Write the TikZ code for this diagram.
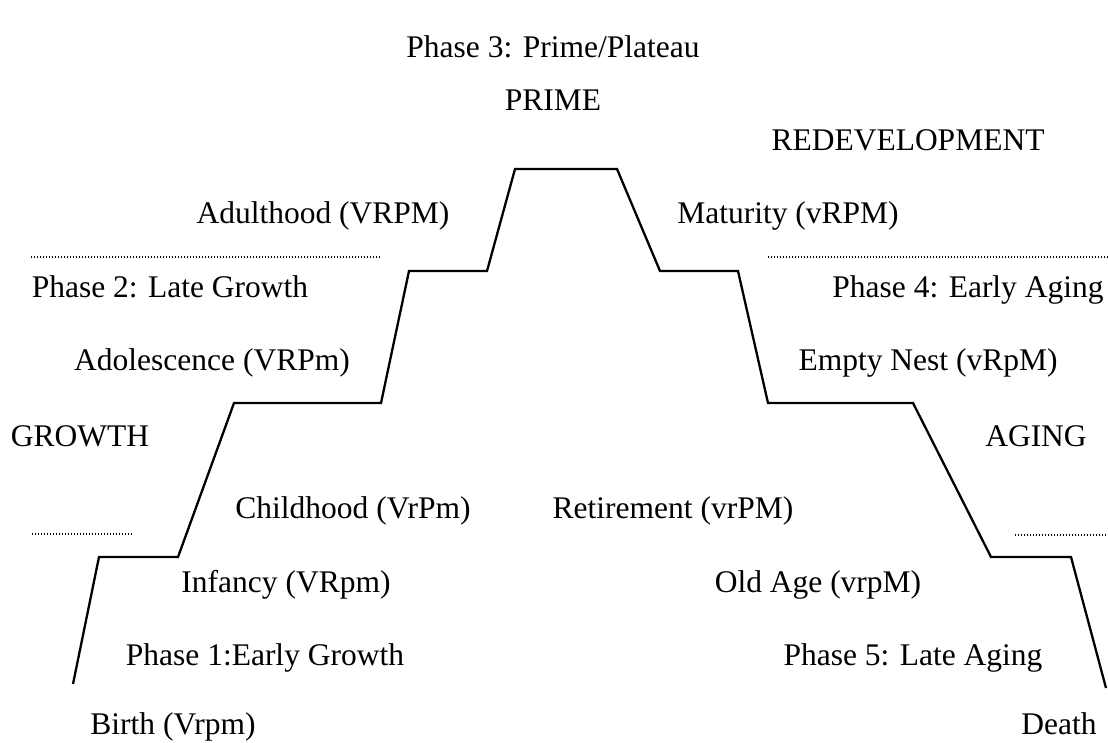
\documentclass[tikz,border=0pt]{standalone}
\usepackage{fontspec}
\setmainfont{Liberation Serif}
\begin{document}
\begin{tikzpicture}[x=1pt,y=-1pt,
  lbl/.style={inner sep=0pt, anchor=base, font=\fontsize{31.5}{36}\selectfont},
  curve/.style={line width=2.3pt, line join=miter},
  sep/.style={line width=1.2pt, dash pattern=on 1pt off 2pt}]
\useasboundingbox (0,0) rectangle (1108,742);
% path coordinates
\coordinate (p0) at (73,684);
\coordinate (p1) at (99,557);
\coordinate (p2) at (178,557);
\coordinate (p3) at (234,403);
\coordinate (p4) at (381,403);
\coordinate (p5) at (409,271);
\coordinate (p6) at (487,271);
\coordinate (p7) at (515,169);
\coordinate (p8) at (617,169);
\coordinate (p9) at (660,271);
\coordinate (p10) at (738,271);
\coordinate (p11) at (768,403);
\coordinate (p12) at (913,403);
\coordinate (p13) at (991,557);
\coordinate (p14) at (1071,557);
\coordinate (p15) at (1106,688);
\draw[curve] (p0) -- (p1) -- (p2) -- (p3) -- (p4) -- (p5) -- (p6) -- (p7) -- (p8) -- (p9) -- (p10) -- (p11) -- (p12) -- (p13) -- (p14) -- (p15);
% dotted separators
\coordinate (d1a) at (31,257); \coordinate (d1b) at (380,257);
\coordinate (d2a) at (32,534); \coordinate (d2b) at (132,534);
\coordinate (d3a) at (768,257); \coordinate (d3b) at (1108,257);
\coordinate (d4a) at (1015,535); \coordinate (d4b) at (1108,535);
\draw[sep] (d1a) -- (d1b);
\draw[sep] (d2a) -- (d2b);
\draw[sep] (d3a) -- (d3b);
\draw[sep] (d4a) -- (d4b);
% labels (base line positions)
\node[lbl] (ph3) at (553,57) {Phase 3: Prime/Plateau};
\node[lbl] (prime) at (553,110) {PRIME};
\node[lbl] (redev) at (908,150) {REDEVELOPMENT};
\node[lbl] (adult) at (323,223) {Adulthood (VRPM)};
\node[lbl] (matur) at (788,223) {Maturity (vRPM)};
\node[lbl] (ph2) at (170,297) {Phase 2: Late Growth};
\node[lbl] (ph4) at (968,297) {Phase 4: Early Aging};
\node[lbl] (adol) at (212,370) {Adolescence (VRPm)};
\node[lbl] (nest) at (928,370) {Empty Nest (vRpM)};
\node[lbl] (growth) at (80,446) {GROWTH};
\node[lbl] (aging) at (1036,446) {AGING};
\node[lbl] (child) at (353,518) {Childhood (VrPm)};
\node[lbl] (retire) at (673,518) {Retirement (vrPM)};
\node[lbl] (inf) at (286,592) {Infancy (VRpm)};
\node[lbl] (old) at (818,592) {Old Age (vrpM)};
\node[lbl] (ph1) at (265,665) {Phase 1:Early Growth};
\node[lbl] (ph5) at (913,665) {Phase 5: Late Aging};
\node[lbl] (birth) at (173,734) {Birth (Vrpm)};
\node[lbl] (death) at (1059,734) {Death};
\end{tikzpicture}
\end{document}
